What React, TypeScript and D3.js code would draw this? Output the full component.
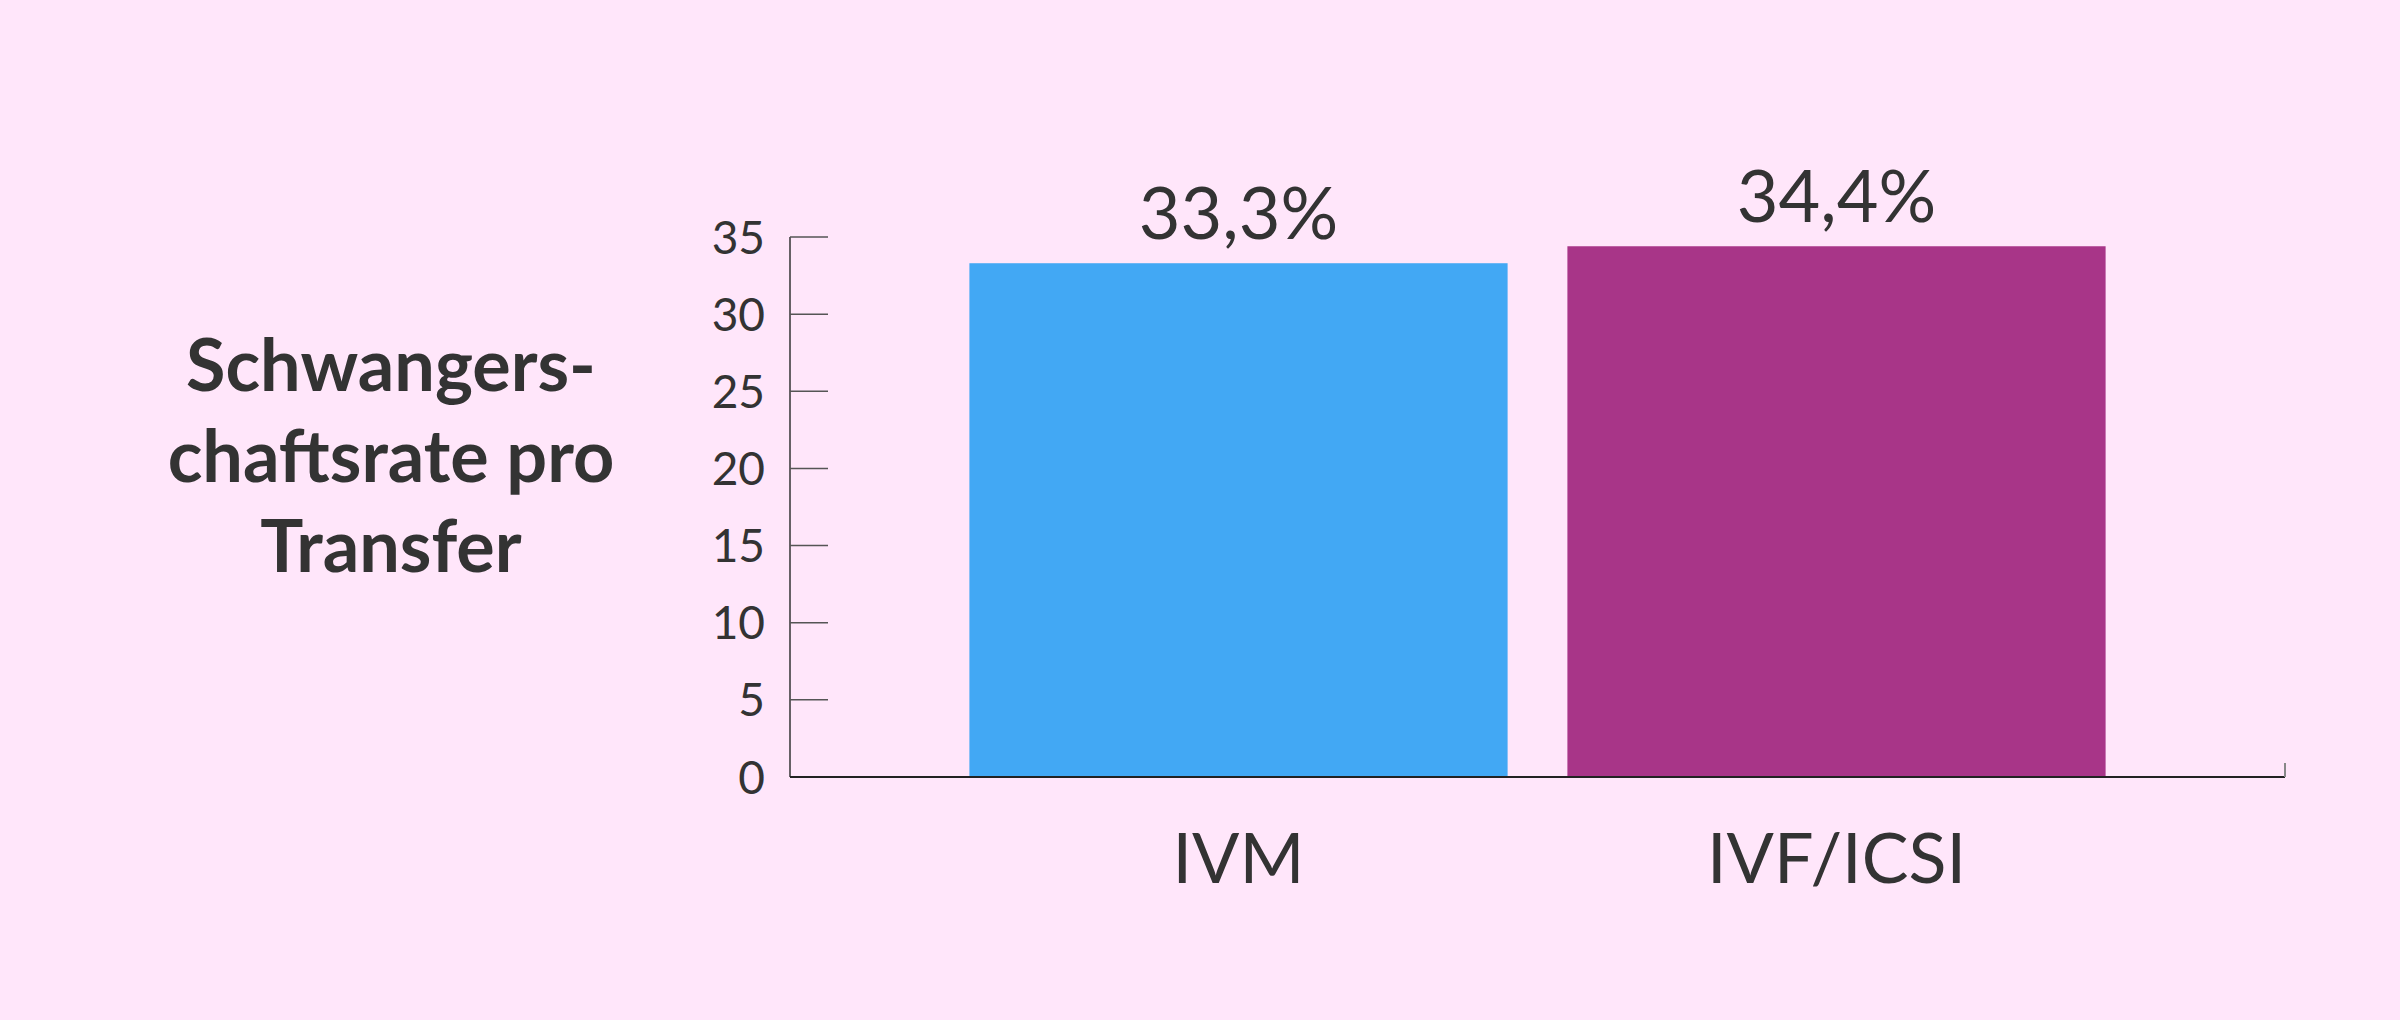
import React from "react";
import * as d3 from "d3";

const categories = ["IVM", "IVF/ICSI"];
const values = [33.3, 34.4];
const valueLabels = ["33,3%", "34,4%"];
const barColors = ["#42A8F4", "#A83588"];
const yTicks = [0, 5, 10, 15, 20, 25, 30, 35];
const titleLines = ["Schwangers-", "chaftsrate pro", "Transfer"];

const W = 2400;
const H = 1020;
const X0 = 790;
const X1 = 2285;
const Y0 = 777;
const Y1 = 237;

export default function App() {
  const x = d3.scaleBand<string>().domain(categories).range([X0, X1]).paddingInner(0.1).paddingOuter(0.3);
  const y = d3.scaleLinear().domain([0, 35]).range([Y0, Y1]);
  const font = "Lato, 'Open Sans', sans-serif";
  const textColor = "#333333";
  return (
    <svg width={W} height={H} style={{ position: "fixed", left: 0, top: 0, display: "block" }}>
      <rect x={0} y={0} width={W} height={H} fill="#FFE6FA" />
      {/* y-axis title */}
      <text fontFamily={font} fontWeight={700} fontSize={72} fill={textColor} textAnchor="middle">
        {titleLines.map((l, i) => (
          <tspan key={i} x={391} y={391 + i * 90.5}>{l}</tspan>
        ))}
      </text>
      {/* bars */}
      {categories.map((c, i) => (
        <rect key={c} x={x(c)} y={y(values[i])} width={x.bandwidth()} height={y(0) - y(values[i])} fill={barColors[i]} />
      ))}
      {/* y axis */}
      <line x1={X0} x2={X0} y1={y(35)} y2={y(0)} stroke="#333" strokeWidth={1.5} />
      {yTicks.map((t) => (
        <g key={t}>
          <line x1={X0} x2={X0 + 38} y1={y(t)} y2={y(t)} stroke="#555" strokeWidth={1.5} />
          <text x={X0 - 25} y={y(t)} dy="0.36em" textAnchor="end" fontFamily={font} fontSize={46} fill={textColor}>
            {t}
          </text>
        </g>
      ))}
      {/* x axis */}
      <line x1={X0} x2={X1} y1={y(0)} y2={y(0)} stroke="#222" strokeWidth={2} />
      <line x1={X1} x2={X1} y1={y(0) - 14} y2={y(0)} stroke="#888" strokeWidth={2} />
      {categories.map((c, i) => (
        <g key={c}>
          <text x={(x(c) as number) + x.bandwidth() / 2} y={883} textAnchor="middle" fontFamily={font} fontSize={70} fill={textColor}>
            {c}
          </text>
          <text x={(x(c) as number) + x.bandwidth() / 2} y={y(values[i]) - 24} textAnchor="middle" fontFamily={font} fontSize={72} fill={textColor}>
            {valueLabels[i]}
          </text>
        </g>
      ))}
    </svg>
  );
}
